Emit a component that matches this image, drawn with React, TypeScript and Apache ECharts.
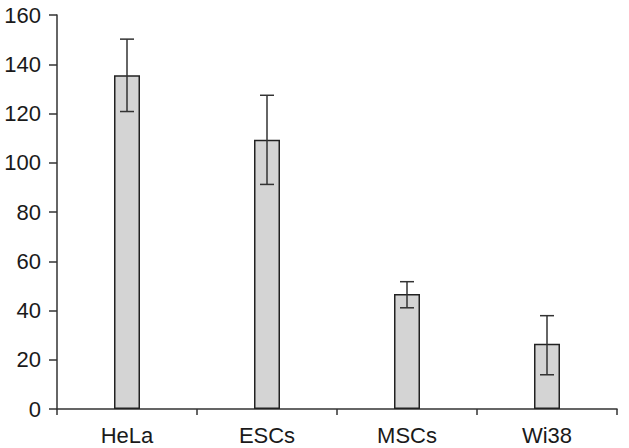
import React, { useEffect, useRef } from "react";
import * as echarts from "echarts";

const categories = ["HeLa", "ESCs", "MSCs", "Wi38"];
const means = [135.5, 109.3, 46.7, 26.5];
const errLow = [120.8, 91.2, 41.1, 13.9];
const errHigh = [150.2, 127.4, 51.7, 37.9];
const yTicks = [0, 20, 40, 60, 80, 100, 120, 140, 160];

export default function App() {
  const ref = useRef<HTMLDivElement>(null);
  useEffect(() => {
    if (!ref.current) return;
    const chart = echarts.init(ref.current, undefined, { renderer: "svg" });
    const font = "Liberation Sans, Arial, sans-serif";
    chart.setOption({
      animation: false,
      backgroundColor: "#fff",
      grid: { left: 57, top: 15, right: 12, bottom: 39, containLabel: false },
      xAxis: {
        type: "category",
        data: categories,
        axisLine: { lineStyle: { color: "#333", width: 1.5 } },
        axisTick: { show: true, length: 6, lineStyle: { color: "#333", width: 1.5 } },
        axisLabel: { color: "#1a1a1a", fontSize: 22, fontFamily: font, margin: 15 },
      },
      yAxis: {
        type: "value",
        min: yTicks[0],
        max: yTicks[yTicks.length - 1],
        interval: 20,
        splitLine: { show: false },
        axisLine: { show: true, lineStyle: { color: "#333", width: 1.5 } },
        axisTick: { show: true, length: 8, lineStyle: { color: "#333", width: 1.5 } },
        axisLabel: { color: "#1a1a1a", fontSize: 22, fontFamily: font, margin: 16 },
      },
      series: [
        {
          type: "bar",
          data: means,
          barWidth: 26,
          itemStyle: { color: "#d4d4d4", borderColor: "#222", borderWidth: 1.5 },
        },
        {
          type: "custom",
          data: categories.map((_, i) => [i, errLow[i], errHigh[i]]),
          renderItem: (params: any, api: any) => {
            const x = api.value(0);
            const lo = api.coord([x, api.value(1)]);
            const hi = api.coord([x, api.value(2)]);
            const hw = 7;
            const style = { stroke: "#333", lineWidth: 1.5 };
            return {
              type: "group",
              children: [
                { type: "line", shape: { x1: lo[0], y1: lo[1], x2: hi[0], y2: hi[1] }, style },
                { type: "line", shape: { x1: hi[0] - hw, y1: hi[1], x2: hi[0] + hw, y2: hi[1] }, style },
                { type: "line", shape: { x1: lo[0] - hw, y1: lo[1], x2: lo[0] + hw, y2: lo[1] }, style },
              ],
            };
          },
          z: 10,
        },
      ],
    });
    return () => chart.dispose();
  }, []);
  return (
    <div
      ref={ref}
      style={{ position: "fixed", left: 0, top: 0, width: 629, height: 448 }}
    />
  );
}
